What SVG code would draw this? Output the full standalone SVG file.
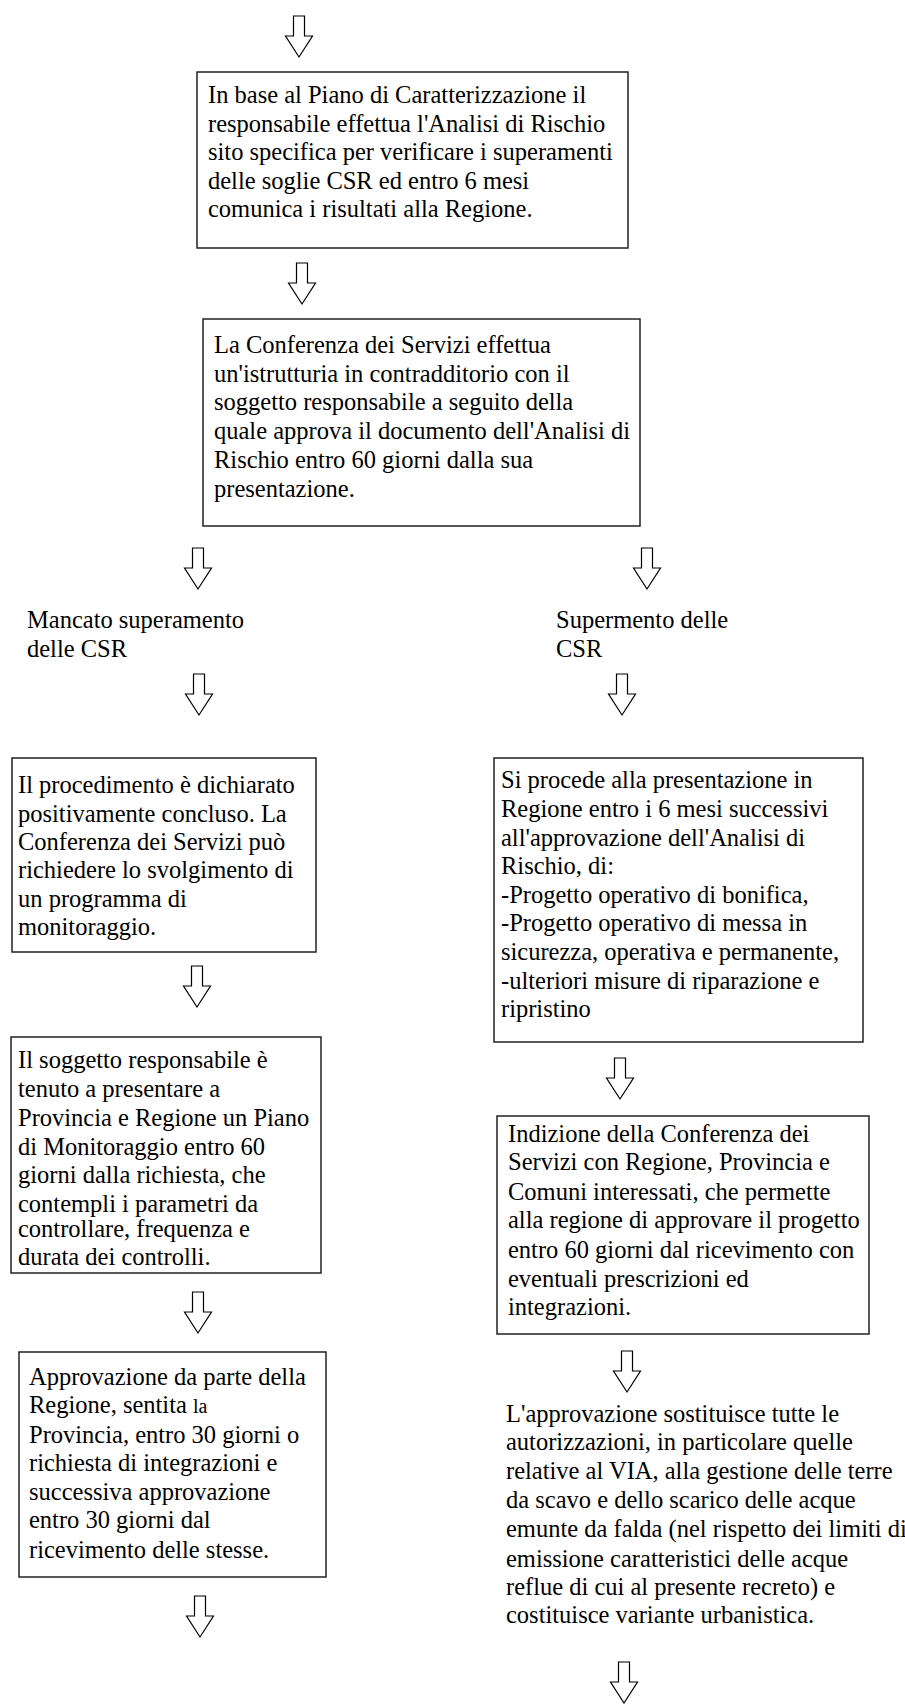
<svg xmlns="http://www.w3.org/2000/svg" width="905" height="1704" viewBox="0 0 905 1704">
<style>
.box{fill:#fff;stroke:#222;stroke-width:1.5}
.t{font-family:"Liberation Serif","Times New Roman",serif;font-size:24.5px;fill:#000}
.arr{fill:#fff;stroke:#000;stroke-width:1.2;stroke-linejoin:miter}
</style>
<defs>
<path id="ar" d="M-5.5,0 L5.5,0 L5.5,20 L13.5,20 L0,41 L-13.5,20 L-5.5,20 Z"/>
</defs>
<rect width="905" height="1704" fill="#fff"/>
<g id="connectors">
<use href="#ar" class="arr" transform="translate(299,16)"/>
<use href="#ar" class="arr" transform="translate(302,263)"/>
<use href="#ar" class="arr" transform="translate(198,548)"/>
<use href="#ar" class="arr" transform="translate(647,548)"/>
<use href="#ar" class="arr" transform="translate(199,674)"/>
<use href="#ar" class="arr" transform="translate(622,674)"/>
<use href="#ar" class="arr" transform="translate(197,966)"/>
<use href="#ar" class="arr" transform="translate(620,1058)"/>
<use href="#ar" class="arr" transform="translate(198,1292)"/>
<use href="#ar" class="arr" transform="translate(627,1351)"/>
<use href="#ar" class="arr" transform="translate(200,1596)"/>
<use href="#ar" class="arr" transform="translate(624,1662)"/>
</g>
<g id="node1">
<rect class="box" x="197" y="72" width="431" height="176"/>
<text class="t" x="208" y="103">In base al Piano di Caratterizzazione il</text>
<text class="t" x="208" y="131.5">responsabile effettua l'Analisi di Rischio</text>
<text class="t" x="208" y="160">sito specifica per verificare i superamenti</text>
<text class="t" x="208" y="188.5">delle soglie CSR ed entro 6 mesi</text>
<text class="t" x="208" y="217">comunica i risultati alla Regione.</text>
</g>
<g id="node2">
<rect class="box" x="203" y="319" width="437" height="207"/>
<text class="t" x="214" y="353">La Conferenza dei Servizi effettua</text>
<text class="t" x="214" y="381.7">un'istrutturia in contradditorio con il</text>
<text class="t" x="214" y="410.4">soggetto responsabile a seguito della</text>
<text class="t" x="214" y="439">quale approva il documento dell'Analisi di</text>
<text class="t" x="214" y="467.8">Rischio entro 60 giorni dalla sua</text>
<text class="t" x="214" y="496.5">presentazione.</text>
</g>
<g id="label-mancato">
<text class="t" x="27" y="628">Mancato superamento</text>
<text class="t" x="27" y="657">delle CSR</text>
</g>
<g id="label-supermento">
<text class="t" x="556" y="628">Supermento delle</text>
<text class="t" x="556" y="657">CSR</text>
</g>
<g id="node3">
<rect class="box" x="12" y="758" width="304" height="194"/>
<text class="t" x="18" y="793.3">Il procedimento è dichiarato</text>
<text class="t" x="18" y="821.7">positivamente concluso. La</text>
<text class="t" x="18" y="850">Conferenza dei Servizi può</text>
<text class="t" x="18" y="878.3">richiedere lo svolgimento di</text>
<text class="t" x="18" y="906.7">un programma di</text>
<text class="t" x="18" y="935">monitoraggio.</text>
</g>
<g id="node4">
<rect class="box" x="494" y="758" width="369" height="284"/>
<text class="t" x="501" y="788.3">Si procede alla presentazione in</text>
<text class="t" x="501" y="816.9">Regione entro i 6 mesi successivi</text>
<text class="t" x="501" y="845.5">all'approvazione dell'Analisi di</text>
<text class="t" x="501" y="874.1">Rischio, di:</text>
<text class="t" x="501" y="902.7">-Progetto operativo di bonifica,</text>
<text class="t" x="501" y="931.3">-Progetto operativo di messa in</text>
<text class="t" x="501" y="959.9">sicurezza, operativa e permanente,</text>
<text class="t" x="501" y="988.5">-ulteriori misure di riparazione e</text>
<text class="t" x="501" y="1017.1">ripristino</text>
</g>
<g id="node5">
<rect class="box" x="11" y="1037" width="310" height="236"/>
<text class="t" x="18" y="1068.3">Il soggetto responsabile è</text>
<text class="t" x="18" y="1097.3">tenuto a presentare a</text>
<text class="t" x="18" y="1126">Provincia e Regione un Piano</text>
<text class="t" x="18" y="1155">di Monitoraggio entro 60</text>
<text class="t" x="18" y="1183.3">giorni dalla richiesta, che</text>
<text class="t" x="18" y="1212.3">contempli i parametri da</text>
<text class="t" x="18" y="1236.7">controllare, frequenza e</text>
<text class="t" x="18" y="1265">durata dei controlli.</text>
</g>
<g id="node6">
<rect class="box" x="19" y="1352" width="307" height="225"/>
<text class="t" x="29" y="1385">Approvazione da parte della</text>
<text class="t" x="29" y="1413.3">Regione, sentita <tspan font-size="20">la</tspan></text>
<text class="t" x="29" y="1442.7">Provincia, entro 30 giorni o</text>
<text class="t" x="29" y="1471">richiesta di integrazioni e</text>
<text class="t" x="29" y="1500">successiva approvazione</text>
<text class="t" x="29" y="1528.3">entro 30 giorni dal</text>
<text class="t" x="29" y="1558.3">ricevimento delle stesse.</text>
</g>
<g id="node7">
<rect class="box" x="497" y="1116" width="372" height="218"/>
<text class="t" x="508" y="1141.7">Indizione della Conferenza dei</text>
<text class="t" x="508" y="1170">Servizi con Regione, Provincia e</text>
<text class="t" x="508" y="1200">Comuni interessati, che permette</text>
<text class="t" x="508" y="1228.3">alla regione di approvare il progetto</text>
<text class="t" x="508" y="1258.3">entro 60 giorni dal ricevimento con</text>
<text class="t" x="508" y="1286.7">eventuali prescrizioni ed</text>
<text class="t" x="508" y="1315">integrazioni.</text>
</g>
<g id="node8">
<text class="t" x="506" y="1421.7">L'approvazione sostituisce tutte le</text>
<text class="t" x="506" y="1450">autorizzazioni, in particolare quelle</text>
<text class="t" x="506" y="1479.3">relative al VIA, alla gestione delle terre</text>
<text class="t" x="506" y="1508.3">da scavo e dello scarico delle acque</text>
<text class="t" x="506" y="1536.7">emunte da falda (nel rispetto dei limiti di</text>
<text class="t" x="506" y="1566.7">emissione caratteristici delle acque</text>
<text class="t" x="506" y="1595">reflue di cui al presente recreto) e</text>
<text class="t" x="506" y="1623.3">costituisce variante urbanistica.</text>
</g>
</svg>
